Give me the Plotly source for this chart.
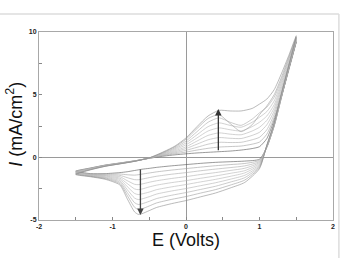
import plotly.graph_objects as go

# Potential grids (V)
E_forward = [-1.5, -1.3, -1.1, -0.9, -0.7, -0.5, -0.3, -0.15, 0.0, 0.15, 0.3, 0.45,
             0.6, 0.75, 0.9, 1.0, 1.1, 1.2, 1.3, 1.4, 1.5]
E_reverse = [1.4, 1.3, 1.2, 1.1, 1.0, 0.8, 0.6, 0.4, 0.2, 0.0, -0.2, -0.4, -0.5,
             -0.6, -0.65, -0.7, -0.8, -0.9, -1.1, -1.3, -1.5]

# Current density (mA/cm2), anodic sweeps, one list per cycle
cycle1_fwd = [-1.10, -0.85, -0.62, -0.45, -0.28, -0.08, 0.10, 0.20, 0.28, 0.35, 0.40, 0.45, 0.50, 0.58, 0.70, 0.85, 1.50, 3.00, 4.90, 7.00, 9.20]
cycle2_fwd = [-1.13, -0.87, -0.63, -0.46, -0.28, -0.07, 0.14, 0.28, 0.42, 0.58, 0.72, 0.82, 0.86, 0.90, 1.05, 1.22, 1.85, 3.20, 5.05, 7.10, 9.25]
cycle3_fwd = [-1.16, -0.88, -0.64, -0.47, -0.29, -0.07, 0.18, 0.36, 0.56, 0.80, 1.05, 1.20, 1.18, 1.20, 1.40, 1.60, 2.20, 3.45, 5.20, 7.20, 9.30]
cycle4_fwd = [-1.19, -0.90, -0.66, -0.48, -0.29, -0.06, 0.22, 0.44, 0.70, 1.05, 1.40, 1.58, 1.52, 1.50, 1.75, 2.00, 2.60, 3.70, 5.40, 7.35, 9.35]
cycle5_fwd = [-1.22, -0.92, -0.67, -0.49, -0.30, -0.06, 0.26, 0.52, 0.84, 1.30, 1.75, 1.95, 1.85, 1.80, 2.10, 2.40, 2.95, 3.95, 5.60, 7.45, 9.40]
cycle6_fwd = [-1.25, -0.94, -0.68, -0.50, -0.30, -0.05, 0.30, 0.60, 1.00, 1.55, 2.10, 2.35, 2.20, 2.10, 2.45, 2.80, 3.30, 4.20, 5.80, 7.55, 9.45]
cycle7_fwd = [-1.28, -0.96, -0.69, -0.50, -0.31, -0.05, 0.34, 0.68, 1.15, 1.80, 2.45, 2.75, 2.55, 2.40, 2.80, 3.20, 3.65, 4.50, 6.00, 7.70, 9.50]
cycle8_fwd = [-1.31, -0.97, -0.70, -0.51, -0.31, -0.05, 0.38, 0.76, 1.30, 2.05, 2.80, 3.15, 2.80, 2.55, 3.05, 3.55, 4.00, 4.80, 6.20, 7.85, 9.55]
cycle9_fwd = [-1.34, -0.98, -0.71, -0.52, -0.32, -0.05, 0.42, 0.84, 1.45, 2.30, 3.10, 3.40, 2.70, 2.05, 2.60, 3.40, 4.10, 5.00, 6.40, 8.00, 9.60]
cycle10_fwd = [-1.37, -1.00, -0.72, -0.52, -0.32, -0.04, 0.46, 0.90, 1.55, 2.45, 3.30, 3.75, 3.70, 3.70, 3.90, 4.25, 4.65, 5.40, 6.70, 8.15, 9.70]

# Cathodic sweeps, one list per cycle
cycle1_rev = [7.10, 4.80, 2.50, 0.80, -0.15, -0.30, -0.35, -0.40, -0.48, -0.58, -0.68, -0.80, -0.88, -0.95, -1.00, -1.05, -1.15, -1.22, -1.30, -1.30, -1.10]
cycle2_rev = [7.13, 4.84, 2.53, 0.82, -0.23, -0.49, -0.58, -0.67, -0.78, -0.90, -1.02, -1.16, -1.25, -1.34, -1.39, -1.42, -1.39, -1.33, -1.35, -1.33, -1.13]
cycle3_rev = [7.16, 4.88, 2.56, 0.84, -0.32, -0.68, -0.82, -0.94, -1.07, -1.22, -1.35, -1.51, -1.62, -1.74, -1.79, -1.78, -1.62, -1.44, -1.40, -1.36, -1.16]
cycle4_rev = [7.19, 4.91, 2.59, 0.86, -0.40, -0.87, -1.05, -1.22, -1.37, -1.54, -1.69, -1.87, -1.99, -2.13, -2.18, -2.15, -1.86, -1.55, -1.45, -1.39, -1.19]
cycle5_rev = [7.22, 4.95, 2.62, 0.88, -0.48, -1.06, -1.28, -1.49, -1.67, -1.86, -2.02, -2.22, -2.36, -2.53, -2.58, -2.52, -2.09, -1.66, -1.50, -1.41, -1.22]
cycle6_rev = [7.25, 4.99, 2.65, 0.90, -0.57, -1.24, -1.52, -1.76, -1.96, -2.17, -2.36, -2.58, -2.77, -2.92, -2.97, -2.88, -2.33, -1.76, -1.55, -1.44, -1.25]
cycle7_rev = [7.28, 5.03, 2.68, 0.92, -0.65, -1.43, -1.75, -2.03, -2.26, -2.49, -2.69, -2.93, -3.14, -3.32, -3.37, -3.25, -2.57, -1.87, -1.60, -1.47, -1.28]
cycle8_rev = [7.31, 5.06, 2.71, 0.94, -0.73, -1.62, -1.98, -2.31, -2.56, -2.81, -3.03, -3.29, -3.51, -3.71, -3.76, -3.62, -2.80, -1.98, -1.65, -1.50, -1.31]
cycle9_rev = [7.34, 5.10, 2.74, 0.96, -0.82, -1.81, -2.22, -2.58, -2.85, -3.13, -3.36, -3.64, -3.88, -4.11, -4.16, -3.98, -3.04, -2.09, -1.70, -1.52, -1.34]
cycle10_rev = [7.37, 5.14, 2.77, 0.98, -0.90, -2.00, -2.45, -2.85, -3.15, -3.45, -3.70, -4.00, -4.25, -4.50, -4.55, -4.35, -3.30, -2.20, -1.75, -1.55, -1.37]

x_tick_vals = [-2, -1.5, -1, -0.5, 0, 0.5, 1, 1.5, 2]
x_tick_text = ["-2", "", "-1", "", "0", "", "1", "", "2"]
y_tick_vals = [-5, -2.5, 0, 2.5, 5, 7.5, 10]
y_tick_text = ["-5", "", "0", "", "5", "", "10"]

fwd_cycles = [cycle1_fwd, cycle2_fwd, cycle3_fwd, cycle4_fwd, cycle5_fwd,
              cycle6_fwd, cycle7_fwd, cycle8_fwd, cycle9_fwd, cycle10_fwd]
rev_cycles = [cycle1_rev, cycle2_rev, cycle3_rev, cycle4_rev, cycle5_rev,
              cycle6_rev, cycle7_rev, cycle8_rev, cycle9_rev, cycle10_rev]
colors = ["#555555", "#a0a0a0", "#aaaaaa", "#b0b0b0", "#b4b4b4",
          "#b6b6b6", "#b2b2b2", "#aaaaaa", "#9c9c9c", "#8c8c8c"]

fig = go.Figure()
for fwd, rev, col in zip(fwd_cycles, rev_cycles, colors):
    fig.add_trace(go.Scatter(
        x=E_forward + E_reverse, y=fwd + rev, mode="lines",
        line=dict(color=col, width=0.6, shape="spline", smoothing=0.6),
        hoverinfo="skip", showlegend=False))

# arrows showing growth with cycling
fig.add_annotation(x=0.44, y=3.85, ax=0.44, ay=0.45, xref="x", yref="y", axref="x", ayref="y",
                   showarrow=True, arrowhead=2, arrowsize=1, arrowwidth=1.3, arrowcolor="#333333", text="")
fig.add_annotation(x=-0.62, y=-4.6, ax=-0.62, ay=-0.85, xref="x", yref="y", axref="x", ayref="y",
                   showarrow=True, arrowhead=2, arrowsize=1, arrowwidth=1.3, arrowcolor="#444444", text="")

# axis titles
fig.add_annotation(x=0.5, y=-0.104, xref="paper", yref="paper", text="E (Volts)", showarrow=False,
                   font=dict(family="Liberation Sans, Arial", size=18, color="#111111"),
                   xanchor="center", yanchor="middle")
fig.add_annotation(x=-0.083, y=0.51, xref="paper", yref="paper", text="<i>I</i> (mA/cm<sup>2</sup>)",
                   showarrow=False, textangle=-90,
                   font=dict(family="Liberation Sans, Arial", size=18, color="#111111"),
                   xanchor="center", yanchor="middle")

# outer page frame
fig.add_shape(type="line", xref="paper", yref="paper", x0=-0.135, x1=1.02, y0=1.096, y1=1.096,
              line=dict(color="#dddddd", width=1.5))
fig.add_shape(type="line", xref="paper", yref="paper", x0=1.02, x1=1.02, y0=1.096, y1=-0.21,
              line=dict(color="#dddddd", width=1.5))

axis_common = dict(showgrid=False, zeroline=True, zerolinecolor="#9a9a9a", zerolinewidth=1,
                   showline=True, linecolor="#a8a8a8", linewidth=1, mirror=True,
                   ticks="inside", ticklen=3, tickcolor="#888888", tickwidth=1,
                   tickfont=dict(family="Liberation Sans, Arial", size=7, color="#222222", weight="bold"))

fig.update_xaxes(range=[-2, 2], tickmode="array", tickvals=x_tick_vals, ticktext=x_tick_text, **axis_common)
fig.update_yaxes(range=[-5, 10], tickmode="array", tickvals=y_tick_vals, ticktext=y_tick_text, **axis_common)

fig.update_layout(width=347, height=258, margin=dict(l=39, r=12, t=32, b=38),
                  paper_bgcolor="white", plot_bgcolor="white")

fig.write_html("out.html")
